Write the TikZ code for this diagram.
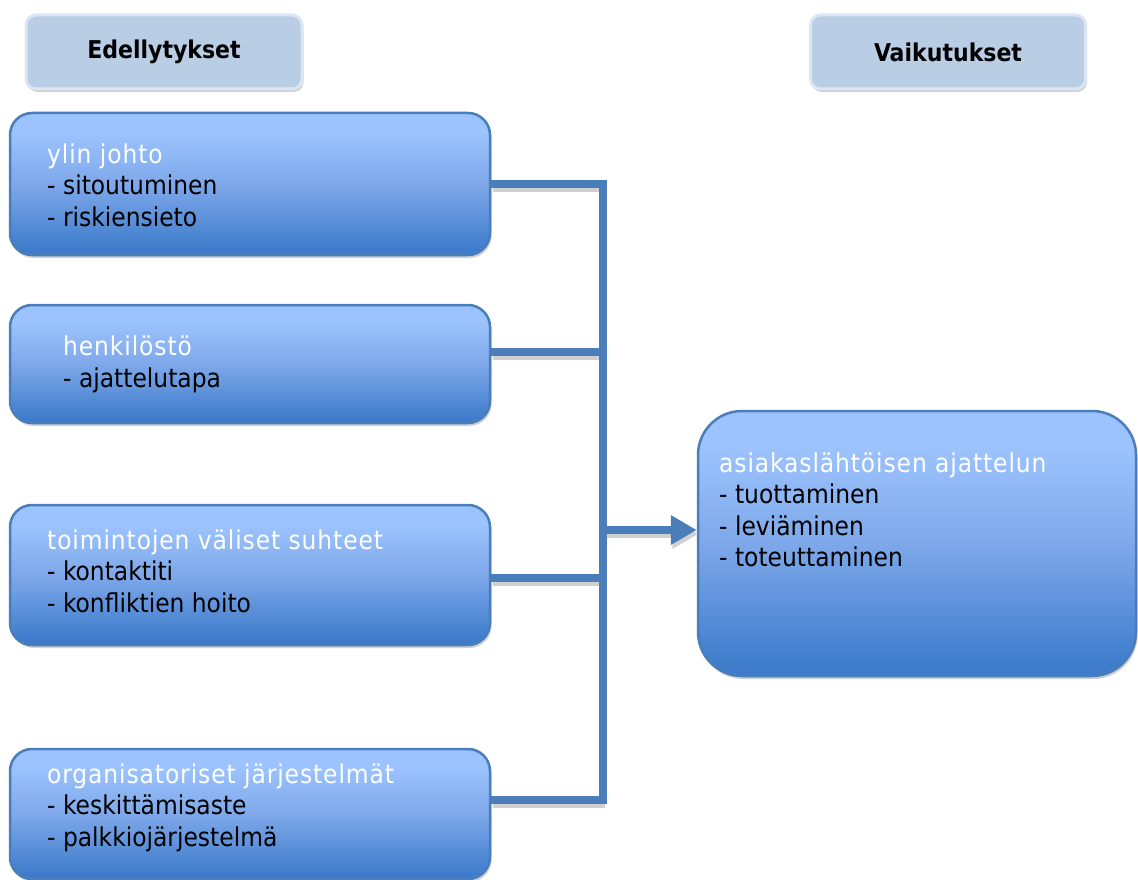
\documentclass[tikz,border=0pt]{standalone}
\usepackage{fontspec}
\setmainfont{DejaVu Sans Condensed}
\usetikzlibrary{arrows.meta,shadows}

\definecolor{edge}{RGB}{74,126,187}
\definecolor{gtop}{RGB}{156,195,253}
\definecolor{gmid}{RGB}{126,168,234}
\definecolor{gbot}{RGB}{62,124,203}
\definecolor{hfill}{RGB}{185,205,229}
\definecolor{hedge}{RGB}{220,230,242}
\definecolor{shadowgray}{RGB}{208,208,208}

% white title line of a box, set a little looser
\newcommand\leadline[1]{{\addfontfeature{LetterSpace=3.5}\color{white}#1}}

% top-to-bottom fill of the content boxes (path spans 25bp..75bp)
\pgfdeclareverticalshading{boxfill}{100bp}{color(0bp)=(gbot); color(27bp)=(gbot); color(50bp)=(gmid); color(68bp)=(gtop); color(100bp)=(gtop)}

\tikzset{
  boxshadow/.style={general shadow={fill=shadowgray, shadow xshift=1.5pt, shadow yshift=-3pt}},
  infobox/.style={draw=edge, line width=2.5pt, rounded corners=22pt, shading=boxfill, boxshadow, inner sep=0pt},
  headbox/.style={draw=hedge, fill=hfill, line width=3pt, rounded corners=10pt, boxshadow,
    minimum height=74pt, inner sep=0pt, font=\fontsize{24.5}{30}\selectfont\bfseries},
  % anchor base sits on the last line of a multi-line block
  txt/.style={align=left, inner sep=0pt, anchor=base west, font=\fontsize{26}{31.5}\selectfont},
  link/.style={draw=edge, line width=8pt},
  linkshadow/.style={draw=shadowgray, line width=8pt},
  tip/.style={-{Triangle[length=26pt, width=28pt]}}
}

\begin{document}
\begin{tikzpicture}[x=1pt, y=-1pt]
  \useasboundingbox (0,0) rectangle (1138,880);

  % column headers
  \node[headbox, minimum width=276pt] (h1) at (164,52) {Edellytykset};
  \node[headbox, minimum width=275pt] (h2) at (948,52) {Vaikutukset};

  % preconditions
  \node[infobox, minimum width=480pt, minimum height=142pt] (b1) at (250,184) {};
  \node[infobox, minimum width=480pt, minimum height=118pt] (b2) at (250,364) {};
  \node[infobox, minimum width=480pt, minimum height=140pt] (b3) at (250,575) {};
  \node[infobox, minimum width=480pt, minimum height=130pt] (b4) at (250,814) {};

  % effects
  \node[infobox, rounded corners=44pt, minimum width=438pt, minimum height=265pt] (rb) at (917,543.5) {};

  % box texts
  \node[txt] (t1) at (47,226) {\leadline{ylin johto}\\- sitoutuminen\\- riskiensieto};
  \node[txt] (t2) at (63,387) {\leadline{henkilöstö}\\- ajattelutapa};
  \node[txt] (t3) at (47,612) {\leadline{toimintojen väliset suhteet}\\- kontaktiti\\- konfliktien hoito};
  \node[txt] (t4) at (47,846) {\leadline{organisatoriset järjestelmät}\\- keskittämisaste\\- palkkiojärjestelmä};
  \node[txt] (t5) at (719,566.5) {\leadline{asiakaslähtöisen ajattelun}\\- tuottaminen\\- leviäminen\\- toteuttaminen};

  % junction points on the collecting spine
  \coordinate (j1) at (603,184);
  \coordinate (j2) at (603,352);
  \coordinate (j3) at (603,578);
  \coordinate (j4) at (603,800);
  \coordinate (ja) at (603,530);

  % soft shadow under the connectors
  \begin{scope}[transform canvas={xshift=1.5pt, yshift=-4pt}]
    \draw[linkshadow] (j1 -| b1.east) -- (j1);
    \draw[linkshadow] (j2 -| b2.east) -- (j2);
    \draw[linkshadow] (j3 -| b3.east) -- (j3);
    \draw[linkshadow] (j4 -| b4.east) -- (j4);
    \draw[linkshadow, tip] (ja) -- (ja -| rb.west);
  \end{scope}

  % connectors
  \draw[link] (j1 -| b1.east) -- (j1) -- (j4) -- (j4 -| b4.east);
  \draw[link] (j2 -| b2.east) -- (j2);
  \draw[link] (j3 -| b3.east) -- (j3);
  \draw[link, tip] (ja) -- (ja -| rb.west);
\end{tikzpicture}
\end{document}
